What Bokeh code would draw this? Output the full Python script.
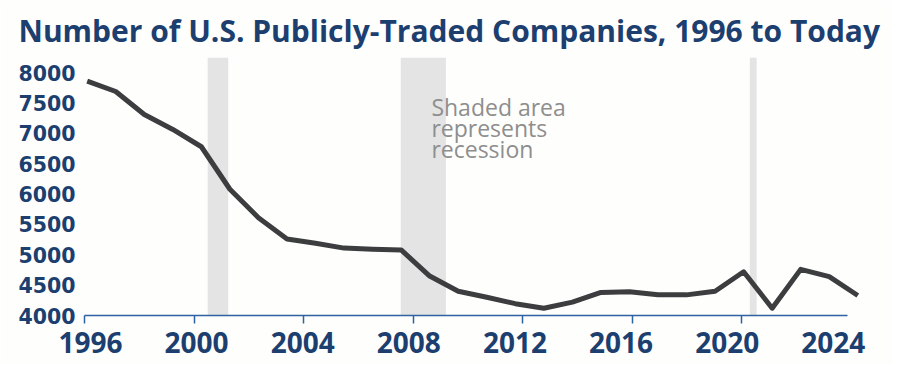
from bokeh.plotting import figure
from bokeh.models import (Range1d, LinearAxis, FixedTicker, BoxAnnotation, Label,
                          CustomLabelingPolicy)
from bokeh.embed import file_html
from bokeh.resources import INLINE

# ---- data ----
years = [1996, 1997, 1998, 1999, 2000, 2001, 2002, 2003, 2004, 2005,
         2006, 2007, 2008, 2009, 2010, 2011, 2012, 2013, 2014, 2015,
         2016, 2017, 2018, 2019, 2020, 2021, 2022, 2023]
companies = [7860, 7690, 7310, 7065, 6780, 6080, 5610, 5260, 5190, 5110,
             5090, 5080, 4650, 4400, 4300, 4195, 4120, 4220, 4380, 4390,
             4340, 4340, 4400, 4720, 4120, 4760, 4640, 4330]

recession_start = [2000.5, 2007.55, 2020.3]
recession_end = [2001.25, 2009.2, 2020.55]

x_ticks = [1996, 2000, 2004, 2008, 2012, 2016, 2020]
x_tick_labels = [1996, 2000, 2004, 2008, 2012, 2016, 2020, 2024]
y_ticks = [4000, 4500, 5000, 5500, 6000, 6500, 7000, 7500, 8000]

title_text = "Number of U.S. Publicly-Traded Companies, 1996 to Today"
note_text = "Shaded area\nrepresents\nrecession"

# ---- styling ----
bg = "#fefefd"
navy = "#1c3f6f"
axis_blue = "#2f62a3"
line_color = "#3b3d3f"
shade = "#e4e4e4"

p = figure(frame_width=782, frame_height=258,
           x_range=Range1d(1995.765, 2023.165), y_range=Range1d(4000, 8250),
           x_axis_type=None, y_axis_type=None,
           output_backend="svg", toolbar_location=None,
           min_border_left=80, min_border_right=30, min_border_top=57, min_border_bottom=50,
           background_fill_color=bg, border_fill_color=bg, outline_line_color=None,
           title=title_text)

p.extra_x_ranges = {"axis": Range1d(1995.854, 2024.415),
                    "lab": Range1d(1995.623, 2025.099)}

p.title.align = "left"
p.title.offset = -62
p.title.standoff = 13
p.title.text_font = "Open Sans"
p.title.text_font_size = "30px"
p.title.text_font_style = "bold"
p.title.text_color = navy

for s, e in zip(recession_start, recession_end):
    p.add_layout(BoxAnnotation(left=s, right=e, x_range_name="axis",
                               fill_color=shade, fill_alpha=1.0,
                               line_color=None, level="underlay"))

p.line(years, companies, line_width=5, line_color=line_color, line_join="round")

note_pos = (2008.67, 7700)
p.add_layout(Label(x=note_pos[0], y=note_pos[1], x_range_name="axis", text=note_text,
                   text_font="Open Sans", text_font_size="23px", text_color="#8e8e8e",
                   text_baseline="top", text_align="left", text_line_height=0.66))

hide_labels = CustomLabelingPolicy(code="""
for (const i of indices) { indices.unset(i) }
return indices
""")

tick_axis = LinearAxis(x_range_name="axis",
                       ticker=FixedTicker(ticks=x_ticks, minor_ticks=[]),
                       bounds=(1996, 2023.85),
                       axis_line_color=axis_blue, axis_line_width=1.5,
                       major_tick_line_color=axis_blue, major_tick_line_width=1.5,
                       major_tick_in=0, major_tick_out=8,
                       minor_tick_line_color=None,
                       major_label_text_font_size="1px",
                       major_label_policy=hide_labels, major_label_standoff=0)
p.add_layout(tick_axis, "below")

label_axis = LinearAxis(x_range_name="lab",
                        ticker=FixedTicker(ticks=x_tick_labels, minor_ticks=[]),
                        axis_line_color=None, major_tick_line_color=None,
                        minor_tick_line_color=None, major_tick_in=0, major_tick_out=0,
                        major_label_standoff=4,
                        major_label_text_font="Open Sans",
                        major_label_text_font_size="28px",
                        major_label_text_font_style="bold",
                        major_label_text_color=navy)
p.add_layout(label_axis, "below")

y_axis = LinearAxis(ticker=FixedTicker(ticks=y_ticks, minor_ticks=[]),
                    axis_line_color=None, major_tick_line_color=None,
                    minor_tick_line_color=None, major_tick_in=0, major_tick_out=0,
                    major_label_standoff=5,
                    major_label_text_font="DejaVu Sans",
                    major_label_text_font_size="20.5px",
                    major_label_text_font_style="bold",
                    major_label_text_color=navy)
p.add_layout(y_axis, "left")

open("out.html", "w").write(file_html(p, INLINE))
